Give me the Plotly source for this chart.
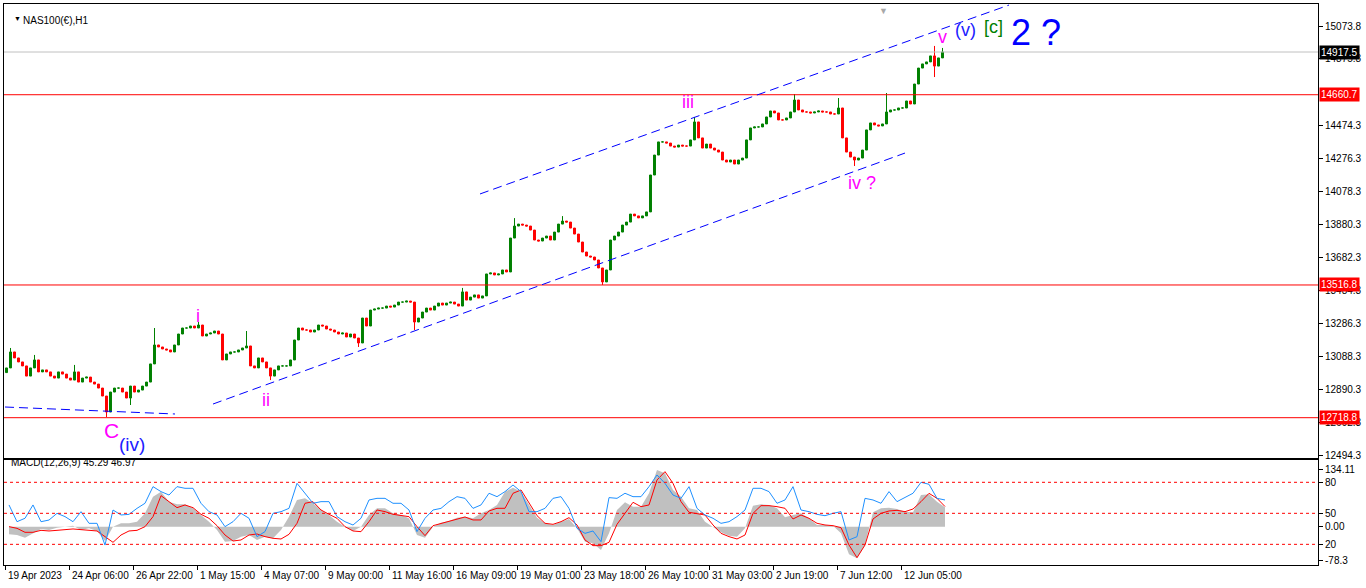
"""
NAS100 H1 chart with Elliott wave count and a MACD panel, rebuilt with Plotly.
"""

import plotly.graph_objects as go

# Price candles: one candle per 4 hourly bars, closes
first_open = 12990
candle_closes = [
    13018, 13114, 13078, 13054, 13030, 12969, 13018, 13066, 12994, 13006,
    12994, 12969, 12957, 12994, 12981, 12957, 12945, 12994, 12933, 12957,
    12963, 12933, 12921, 12897, 12849, 12753, 12873, 12897, 12897, 12873,
    12837, 12909, 12873, 12885, 12909, 12933, 13042, 13156, 13144, 13132,
    13126, 13114, 13156, 13222, 13258, 13258, 13270, 13258, 13276, 13210,
    13222, 13228, 13240, 13222, 13066, 13102, 13114, 13114, 13126, 13138,
    13150, 13030, 13018, 13078, 13054, 13018, 12969, 13006, 13030, 13030,
    13030, 13066, 13186, 13258, 13246, 13246, 13234, 13246, 13276, 13270,
    13252, 13246, 13234, 13222, 13228, 13204, 13222, 13198, 13168, 13318,
    13270, 13366, 13372, 13378, 13378, 13390, 13384, 13396, 13414, 13414,
    13420, 13414, 13294, 13318, 13354, 13378, 13366, 13390, 13408, 13396,
    13408, 13414, 13402, 13390, 13475, 13426, 13444, 13457, 13438, 13451,
    13583, 13589, 13577, 13583, 13607, 13595, 13799, 13871, 13883, 13877,
    13871, 13847, 13787, 13781, 13799, 13811, 13787, 13835, 13883, 13901,
    13895, 13859, 13823, 13775, 13715, 13691, 13685, 13667, 13619, 13535,
    13607, 13787, 13811, 13835, 13877, 13895, 13943, 13932, 13920, 13932,
    13956, 14178, 14298, 14377, 14377, 14370, 14352, 14346, 14358, 14352,
    14352, 14389, 14497, 14401, 14340, 14364, 14340, 14328, 14316, 14268,
    14256, 14268, 14244, 14268, 14280, 14389, 14461, 14467, 14467, 14485,
    14527, 14563, 14551, 14509, 14509, 14521, 14557, 14629, 14569, 14557,
    14557, 14551, 14557, 14563, 14557, 14557, 14545, 14545, 14581, 14401,
    14316, 14286, 14268, 14280, 14328, 14449, 14491, 14479, 14473, 14485,
    14557, 14569, 14569, 14581, 14581, 14623, 14605, 14725, 14821, 14846,
    14858, 14894, 14833, 14882, 14917.5,
]

# Wicks that stick out beyond the candle bodies (candle index -> price)
wick_highs = {
    1: 13138, 7: 13096, 17: 13036, 37: 13258, 48: 13294, 60: 13240,
    89: 13306, 114: 13499, 127: 13919, 139: 13931, 172: 14527,
    197: 14665, 208: 14641, 220: 14671, 232: 14954, 234: 14942,
}
wick_lows = {
    25: 12722, 31: 12795, 66: 12945, 88: 13144, 102: 13246,
    149: 13517, 212: 14232, 232: 14767,
}

# MACD panel: one value per 8 hourly bars
macd_main = [
    -17.9, -19.5, -25.7, -15.6, -5.4, -7.8, -2.3, 0.0, 2.3, -7.8,
    -3.9, -10.1, -33.5, 0.0, 7.8, 7.8, 11.7, 31.1, 70.0, 81.7,
    58.3, 52.1, 52.1, 42.8, 27.2, 11.7, -7.8, -35.0, -33.5, -23.3,
    -19.5, -31.1, -23.3, -27.2, -7.8, 23.3, 62.2, 66.1, 54.5, 38.9,
    27.2, 11.7, 0.0, -10.1, 0.0, 27.2, 42.8, 42.8, 31.1, 27.2,
    19.5, -19.5, -25.7, 0.0, 9.3, 13.2, 21.0, 23.3, 19.5, 31.1,
    38.9, 50.6, 81.7, 91.0, 81.7, 50.6, 21.0, 7.8, 3.9, 11.7,
    17.9, -3.9, -35.0, -38.9, -54.5, -15.6, 38.9, 56.8, 46.7, 46.7,
    77.8, 132.3, 124.5, 85.6, 70.0, 42.8, 38.9, 11.7, 0.0, -13.2,
    -21.0, -23.3, -3.9, 49.0, 52.1, 50.6, 42.8, 21.8, 27.2, 31.1,
    19.5, 3.9, 3.9, 2.3, -15.6, -64.6, -73.9, -42.8, 33.5, 42.8,
    44.4, 41.2, 35.0, 33.5, 73.9, 75.5, 58.3, 45.3,
]
macd_signal = [
    0.0, -3.9, -13.2, -13.2, -8.6, -10.1, -8.6, -6.2, -5.4, -7.0,
    -7.8, -10.1, -23.3, -36.6, -19.5, -10.1, -8.6, 0.0, 23.3, 72.4,
    58.3, 44.3, 50.6, 44.3, 28.8, 19.5, 2.3, -19.5, -33.5, -31.1,
    -19.5, -17.1, -23.3, -27.2, -28.8, -17.9, 7.8, 54.5, 58.3, 38.9,
    28.8, 19.5, 0.0, -10.1, -11.7, 11.7, 38.9, 35.0, 28.8, 25.7,
    23.3, 0.0, -21.0, 2.3, 7.8, 11.7, 17.9, 22.6, 15.6, 15.6,
    36.6, 42.8, 42.8, 77.8, 85.6, 54.5, 25.7, 7.8, 5.4, 11.7,
    21.0, 3.9, -31.1, -44.3, -44.3, -36.6, 5.4, 31.1, 56.8, 46.7,
    50.6, 108.9, 128.4, 101.1, 58.3, 33.5, 31.1, 27.2, 3.9, -15.6,
    -23.3, -28.8, -19.5, 31.1, 49.0, 49.0, 46.7, 42.8, 17.9, 27.2,
    19.5, 7.8, 3.9, 2.3, -2.3, -42.8, -72.4, -42.8, 17.9, 31.1,
    36.6, 38.1, 35.0, 41.2, 58.3, 77.8, 66.1, 47.0,
]
# blue oscillator drawn over the MACD panel on a 0-100 scale
oscillator = [
    58.1, 41.9, 45.2, 58.1, 41.9, 43.5, 50.0, 46.8, 41.9, 51.6,
    40.3, 40.3, 19.3, 53.2, 48.4, 49.0, 54.8, 59.7, 75.8, 71.0,
    67.7, 75.8, 74.2, 74.2, 59.7, 51.6, 48.4, 37.1, 41.9, 50.0,
    45.2, 27.4, 32.3, 50.0, 51.6, 54.8, 79.0, 69.4, 59.7, 61.3,
    61.3, 46.8, 41.9, 38.7, 45.2, 62.9, 64.5, 64.5, 59.7, 59.7,
    53.2, 32.3, 45.2, 53.2, 54.8, 61.3, 66.1, 64.5, 54.8, 58.1,
    69.4, 66.1, 71.0, 77.4, 71.0, 51.6, 51.6, 54.8, 64.5, 66.1,
    54.8, 35.5, 30.6, 32.9, 22.6, 65.2, 64.5, 69.4, 66.1, 66.1,
    75.8, 87.1, 79.0, 67.7, 64.5, 75.8, 54.8, 48.4, 45.2, 40.3,
    41.9, 46.8, 53.2, 74.2, 74.2, 71.0, 59.7, 62.9, 75.8, 53.2,
    51.6, 49.0, 47.7, 50.0, 51.6, 24.2, 27.4, 64.5, 62.9, 59.7,
    71.0, 61.3, 65.2, 69.4, 80.0, 78.1, 64.5, 62.9,
]
osc_levels = [80, 50, 20]

# Horizontal levels and their price boxes on the axis
red_levels = [14660.7, 13516.8, 12718.8]
last_price = 14917.5

# Price axis labels as MT4 prints them
price_ticks = [15073.8, 14875.8, 14474.3, 14276.3, 14078.3, 13880.3, 13682.3,
               13484.3, 13286.3, 13088.3, 12890.3, 12692.3, 12494.3]
macd_ticks = [134.11, 0.0, -78.3]
macd_tick_text = ["134.11", "0.00", "-78.3"]

# Time axis: a label every 64 hourly bars
time_labels = ["19 Apr 2023", "24 Apr 06:00", "26 Apr 22:00", "1 May 15:00",
               "4 May 07:00", "9 May 00:00", "11 May 16:00", "16 May 09:00",
               "19 May 01:00", "23 May 18:00", "26 May 10:00", "31 May 03:00",
               "2 Jun 19:00", "7 Jun 12:00", "12 Jun 05:00"]

# Trend lines (bar index, price)
channel_lines = [
    ((475, 14064), (1004, 15200)),  # upper channel
    ((208, 12801), (900, 14310)),   # lower channel
    ((0, 12783), (170, 12741)),     # old base line
]

# Wave labels: (text, bar index, price, colour, size)
wave_labels = [
    ("i", 193, 13330, "#ff00ff", 18),
    ("ii", 261, 12825, "#ff00ff", 18),
    ("iii", 683, 14617, "#ff00ff", 18),
    ("iv ?", 857, 14130, "#ff00ff", 18),
    ("v", 937, 15008, "#ff00ff", 18),
    ("(v)", 960, 15050, "#2020ff", 18),
    ("[c]", 988, 15066, "#008000", 18),
    ("2 ?", 1031, 15034, "#0000ff", 36),
    ("C", 106, 12639, "#ff00ff", 21),
    ("(iv)", 127, 12555, "#2020ff", 19),
]

FONT = "Liberation Sans, Arial, sans-serif"
X_RANGE = [-1, 1313]

# Build candle arrays
opens = [first_open] + candle_closes[:-1]
highs = [max(o, c, wick_highs.get(i, c)) for i, (o, c) in enumerate(zip(opens, candle_closes))]
lows = [min(o, c, wick_lows.get(i, c)) for i, (o, c) in enumerate(zip(opens, candle_closes))]
candle_x = [4 * i + 1.5 for i in range(len(candle_closes))]
macd_x = [8 * i + 4 for i in range(len(macd_main))]

fig = go.Figure()

fig.add_trace(
    go.Candlestick(
        x=candle_x,
        open=opens,
        high=highs,
        low=lows,
        close=candle_closes,
        increasing=dict(line=dict(color="#008000", width=1), fillcolor="#008000"),
        decreasing=dict(line=dict(color="#ff0000", width=1), fillcolor="#ff0000"),
        whiskerwidth=0,
        xaxis="x",
        yaxis="y",
        hoverinfo="skip",
    )
)

# MACD main as a grey filled area, signal line and the blue oscillator
fig.add_trace(
    go.Scatter(
        x=macd_x,
        y=macd_main,
        mode="lines",
        line=dict(color="#c0c0c0", width=0),
        fill="tozeroy",
        fillcolor="#c0c0c0",
        xaxis="x2",
        yaxis="y2",
    )
)
fig.add_trace(
    go.Scatter(x=macd_x, y=macd_signal, mode="lines", line=dict(color="#ff0000", width=1),
               xaxis="x2", yaxis="y2")
)
fig.add_trace(
    go.Scatter(x=macd_x, y=oscillator, mode="lines", line=dict(color="#1e90ff", width=1),
               xaxis="x2", yaxis="y3")
)

shapes = []
for level in red_levels:
    shapes.append(dict(type="line", xref="x domain", yref="y", x0=0, x1=1, y0=level, y1=level,
                       line=dict(color="#ff0000", width=1)))
shapes.append(dict(type="line", xref="x domain", yref="y", x0=0, x1=1, y0=last_price, y1=last_price,
                   line=dict(color="#c0c0c0", width=1)))
for level in osc_levels:
    shapes.append(dict(type="line", xref="x2 domain", yref="y3", x0=0, x1=1, y0=level, y1=level,
                       line=dict(color="#ff0000", width=1, dash="3px,3px")))
for (x0, y0), (x1, y1) in channel_lines:
    shapes.append(dict(type="line", xref="x", yref="y", x0=x0, y0=y0, x1=x1, y1=y1,
                       line=dict(color="#0000ff", width=1, dash="9px,5px")))

annotations = []
for text, bar, price, color, size in wave_labels:
    annotations.append(dict(x=bar, y=price, xref="x", yref="y", text=text, showarrow=False,
                            font=dict(family=FONT, size=size, color=color)))

# price boxes on the right axis
for level in red_levels:
    annotations.append(dict(x=1, y=level, xref="paper", yref="y", text=f"{level:.1f}",
                            xanchor="left", xshift=1, showarrow=False, bgcolor="#ff0000",
                            borderpad=1, font=dict(family=FONT, size=10, color="white")))
annotations.append(dict(x=1, y=last_price, xref="paper", yref="y", text=f"{last_price:.1f}",
                        xanchor="left", xshift=1, showarrow=False, bgcolor="#000000",
                        borderpad=1, font=dict(family=FONT, size=10, color="white")))

# osc level labels on the MACD panel
for level in osc_levels:
    annotations.append(dict(x=1, y=level, xref="paper", yref="y3", text=str(level),
                            xanchor="left", xshift=5, showarrow=False,
                            font=dict(family=FONT, size=10, color="black")))

# time labels sit to the right of their tick, MT4 style
for i, label in enumerate(time_labels):
    annotations.append(dict(x=64 * i, y=0, xref="x2", yref="paper", text=label,
                            xanchor="left", yanchor="top", xshift=1, yshift=-3, showarrow=False,
                            font=dict(family=FONT, size=10, color="black")))

annotations += [
    dict(x=0.0061, y=0.984, xref="paper", yref="paper", text="▼", showarrow=False,
         font=dict(family=FONT, size=7, color="black")),
    dict(x=0.0129, y=0.984, xref="paper", yref="paper", text="NAS100(€),H1", xanchor="left",
         showarrow=False, font=dict(family=FONT, size=10, color="black")),
    dict(x=0.0038, y=0.1693, xref="paper", yref="paper", text="MACD(12,26,9) 45.29 46.97",
         xanchor="left", showarrow=False, font=dict(family=FONT, size=10, color="black")),
    dict(x=878, y=1, xref="x", yref="paper", yanchor="top", text="▼", showarrow=False,
         font=dict(family=FONT, size=9, color="#a8a8a8")),
]

frame = dict(showline=True, mirror=True, linecolor="black", linewidth=1, showgrid=False,
             zeroline=False, automargin=False)

fig.update_layout(
    width=1366,
    height=588,
    margin=dict(l=4, r=48, t=4, b=23),
    paper_bgcolor="white",
    plot_bgcolor="white",
    showlegend=False,
    font=dict(family=FONT, size=10, color="black"),
    shapes=shapes,
    annotations=annotations,
    xaxis=dict(domain=[0, 1], anchor="y", range=X_RANGE, showticklabels=False, ticks="",
               rangeslider=dict(visible=False), **frame),
    yaxis=dict(domain=[0.1907, 1], anchor="x", side="right", range=[12476.3, 15206.2],
               tickvals=price_ticks, ticktext=[f"{v:.1f}" for v in price_ticks],
               ticks="outside", ticklen=4, tickcolor="black", **frame),
    xaxis2=dict(domain=[0, 1], anchor="y2", range=X_RANGE,
                tickvals=[64 * i for i in range(len(time_labels))], showticklabels=False,
                ticks="outside", ticklen=4, tickcolor="black", **frame),
    yaxis2=dict(domain=[0, 0.1872], anchor="x2", side="right", range=[-89.5, 155.6],
                tickvals=macd_ticks, ticktext=macd_tick_text, ticks="outside", ticklen=4,
                tickcolor="black", **frame),
    yaxis3=dict(overlaying="y2", anchor="x2", side="right", range=[0, 101.6],
                showticklabels=False, showgrid=False, zeroline=False, showline=False,
                tickvals=osc_levels, ticks="outside", ticklen=4, tickcolor="black"),
)

# drop the page's default body margin so the chart sits flush in the window
fig.write_html(
    "out.html",
    config={"displayModeBar": False},
    post_script="document.body.style.margin='0';document.body.style.overflow='hidden';",
)
